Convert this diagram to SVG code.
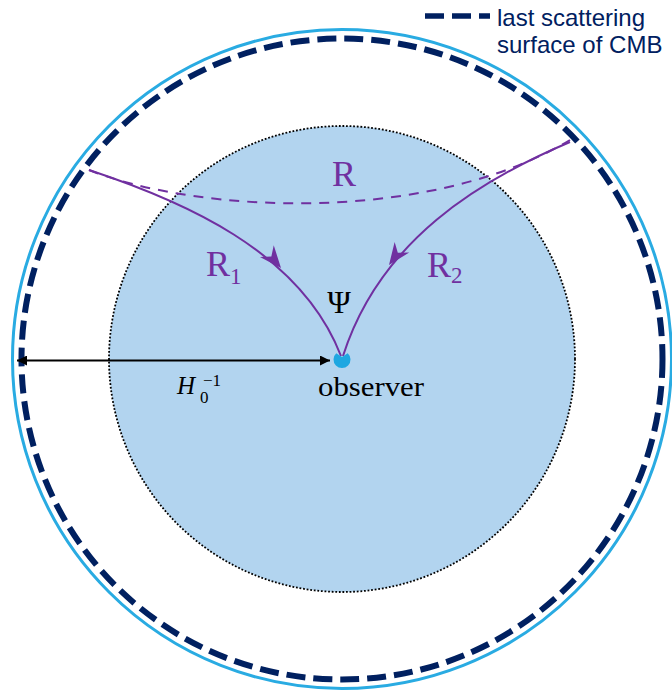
<svg xmlns="http://www.w3.org/2000/svg" width="672" height="694" viewBox="0 0 672 694">
  <style>
    .ray { fill: none; stroke: #7030a0; stroke-width: 2; }
    .ph { fill: #7030a0; stroke: none; }
    .lbl { font-family: "Liberation Serif", "DejaVu Serif", serif; fill: #7030a0; }
    .blk { font-family: "Liberation Serif", "DejaVu Serif", serif; fill: #000; }
    .leg { font-family: "Liberation Sans", Arial, sans-serif; font-size: 24px; fill: #002060; }
  </style>
  <defs>
    <marker id="ah" viewBox="0 0 10 10" refX="10" refY="5" markerWidth="5" markerHeight="5" orient="auto-start-reverse" markerUnits="strokeWidth">
      <path d="M0,0 L10,5 L0,10 Z" fill="#000"/>
    </marker>
  </defs>
  <rect width="672" height="694" fill="#fff"/>

  <g id="hubble-sphere">
    <circle cx="342" cy="359" r="329.5" fill="none" stroke="#29abe2" stroke-width="3"/>
  </g>
  <g id="last-scattering-surface">
    <circle cx="342" cy="359" r="320.5" fill="none" stroke="#002060" stroke-width="6" stroke-dasharray="19 8"/>
  </g>
  <g id="inner-region">
    <circle cx="342" cy="359" r="233" fill="#b2d4ef" stroke="#000" stroke-width="1.8" stroke-dasharray="1.8 1.8"/>
  </g>

  <g id="connectors">
    <path id="R" class="ray" stroke-dasharray="10 8" d="M89,170 C200,214 430,224 570,140"/>
    <path id="R1" class="ray" d="M89,170 C180,200 300,250 341,356"/>
    <path id="R2" class="ray" d="M570,142 C480,180 380,240 343,356"/>
    <path class="ph" transform="translate(281,268) rotate(50)" d="M0,0 L-22,-9 L-15,0 L-22,9 Z"/>
    <path class="ph" transform="translate(389,265) rotate(126)" d="M0,0 L-22,-9 L-15,0 L-22,9 Z"/>
    <line id="radius" x1="17" y1="360.5" x2="330" y2="360.5" stroke="#000" stroke-width="2" marker-start="url(#ah)" marker-end="url(#ah)"/>
  </g>

  <g id="observer">
    <path d="M342,357 L336.3,353.3 A8.5 8.5 0 1 0 347.7,353.3 Z" fill="#1ea7e1"/>
    <text class="blk" x="318" y="396" font-size="27" textLength="106" lengthAdjust="spacingAndGlyphs">observer</text>
  </g>

  <g id="labels">
    <text class="lbl" x="344" y="186" font-size="36" text-anchor="middle">R</text>
    <text class="lbl" x="206" y="276" font-size="36">R</text>
    <text class="lbl" x="230" y="284" font-size="23">1</text>
    <text class="lbl" x="427" y="277" font-size="36">R</text>
    <text class="lbl" x="451" y="283" font-size="23">2</text>
    <text class="blk" x="339" y="313" font-size="32" text-anchor="middle">Ψ</text>
    <text class="blk" x="177" y="394" font-size="25" font-style="italic">H</text>
    <text class="blk" x="200" y="403" font-size="17">0</text>
    <text class="blk" x="203" y="386" font-size="17">−1</text>
  </g>

  <g id="legend">
    <line x1="425" y1="16" x2="490" y2="16" stroke="#002060" stroke-width="5.5" stroke-dasharray="19 8"/>
    <text class="leg" x="497" y="26">last scattering</text>
    <text class="leg" x="497" y="53">surface of CMB</text>
  </g>
</svg>
